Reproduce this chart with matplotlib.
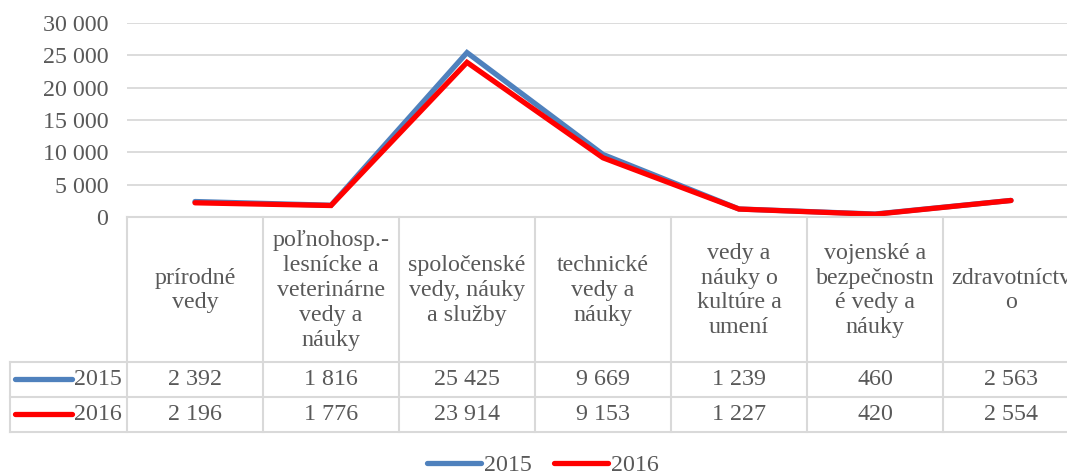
import numpy as np
import matplotlib
matplotlib.use("Agg")
import matplotlib.pyplot as plt
from matplotlib.lines import Line2D

categories = [
    "prírodné\nvedy",
    "poľnohosp.-\nlesnícke a\nveterinárne\nvedy a\nnáuky",
    "spoločenské\nvedy, náuky\na služby",
    "technické\nvedy a\nnáuky",
    "vedy a\nnáuky o\nkultúre a\numení",
    "vojenské a\nbezpečnostn\né vedy a\nnáuky",
    "zdravotníctv\no",
]
series_names = ["2015", "2016"]
values_2015 = [2392, 1816, 25425, 9669, 1239, 460, 2563]
values_2016 = [2196, 1776, 23914, 9153, 1227, 420, 2554]
y_ticks = [0, 5000, 10000, 15000, 20000, 25000, 30000]

colors = ["#4f81bd", "#ff0000"]
text_color = "#595959"
grid_color = "#d9d9d9"
FONT = "Liberation Serif"
FS = 17.3

def fmt(v):
    return f"{v:,}".replace(",", " ")

W, H = 1067, 475
fig = plt.figure(figsize=(W / 100, H / 100), dpi=100)
plt.rcParams["font.family"] = [FONT, "DejaVu Sans"]

left_px, col_w = 127, 136
n = len(categories)
ax_left = left_px / W
ax_w = n * col_w / W
top_px, zero_px = 23, 217

ax = fig.add_axes([ax_left, (H - zero_px) / H, ax_w, (zero_px - top_px) / H])
x = np.arange(n)
ax.set_xlim(-0.5, n - 0.5)
ax.set_ylim(0, 30000)
ax.set_yticks(y_ticks)
ax.set_yticklabels([fmt(t) for t in y_ticks], fontsize=FS, color=text_color, fontfamily=FONT)
ax.tick_params(axis="y", length=0, pad=13.5)
ax.set_xticks([])
for s in ax.spines.values():
    s.set_visible(False)
ax.yaxis.grid(True, color=grid_color, lw=1.3)
ax.set_axisbelow(True)
ax.plot(x, values_2015, color=colors[0], lw=3.8, solid_capstyle="round", solid_joinstyle="miter", zorder=3)
ax.plot(x, values_2016, color=colors[1], lw=3.8, solid_capstyle="round", solid_joinstyle="miter", zorder=4)

# Data table
header_bottom, row1_bottom, row2_bottom = 362, 397, 432
tax = fig.add_axes([ax_left, (H - row2_bottom) / H, ax_w, (row2_bottom - zero_px) / H])
tax.set_xlim(-0.5, n - 0.5)
tax.set_ylim(row2_bottom, zero_px)
tax.axis("off")
key_left = -0.5 - (left_px - 10) / col_w
lkw = dict(color=grid_color, lw=1.5, clip_on=False, solid_capstyle="projecting")
for i in range(n + 1):
    tax.plot([i - 0.5, i - 0.5], [zero_px, row2_bottom], **lkw)
tax.plot([key_left, key_left], [header_bottom, row2_bottom], **lkw)
tax.plot([-0.5, n - 0.5], [zero_px, zero_px], **lkw)
for yy in (header_bottom, row1_bottom, row2_bottom):
    tax.plot([key_left, n - 0.5], [yy, yy], **lkw)

for i, c in enumerate(categories):
    tax.text(i, (zero_px + header_bottom) / 2 + 1, c, ha="center", va="center",
             fontsize=FS, color=text_color, fontfamily=FONT, linespacing=1.24, clip_on=False)

rows = [(values_2015, (header_bottom + row1_bottom) / 2), (values_2016, (row1_bottom + row2_bottom) / 2)]
for k, (vals, yc) in enumerate(rows):
    for i, v in enumerate(vals):
        tax.text(i, yc, fmt(v), ha="center", va="center", fontsize=FS,
                 color=text_color, fontfamily=FONT, clip_on=False)
    kx0 = key_left + 5 / col_w
    kx1 = key_left + 62 / col_w
    tax.plot([kx0, kx1], [yc, yc], color=colors[k], lw=3.8, solid_capstyle="round", clip_on=False)
    tax.text(kx1 + 2 / col_w, yc, series_names[k], ha="left", va="center", fontsize=FS,
             color=text_color, fontfamily=FONT, clip_on=False)

handles = [Line2D([], [], color=colors[k], lw=3.8, solid_capstyle="round") for k in range(2)]
leg = fig.legend(handles, series_names, loc="center", bbox_to_anchor=(543 / W, 10 / H),
                 ncol=2, frameon=False, handlelength=2.25, handletextpad=0.15,
                 columnspacing=0.9, prop={"family": FONT, "size": FS})
for t in leg.get_texts():
    t.set_color(text_color)

fig.savefig("out.png", dpi=100)
